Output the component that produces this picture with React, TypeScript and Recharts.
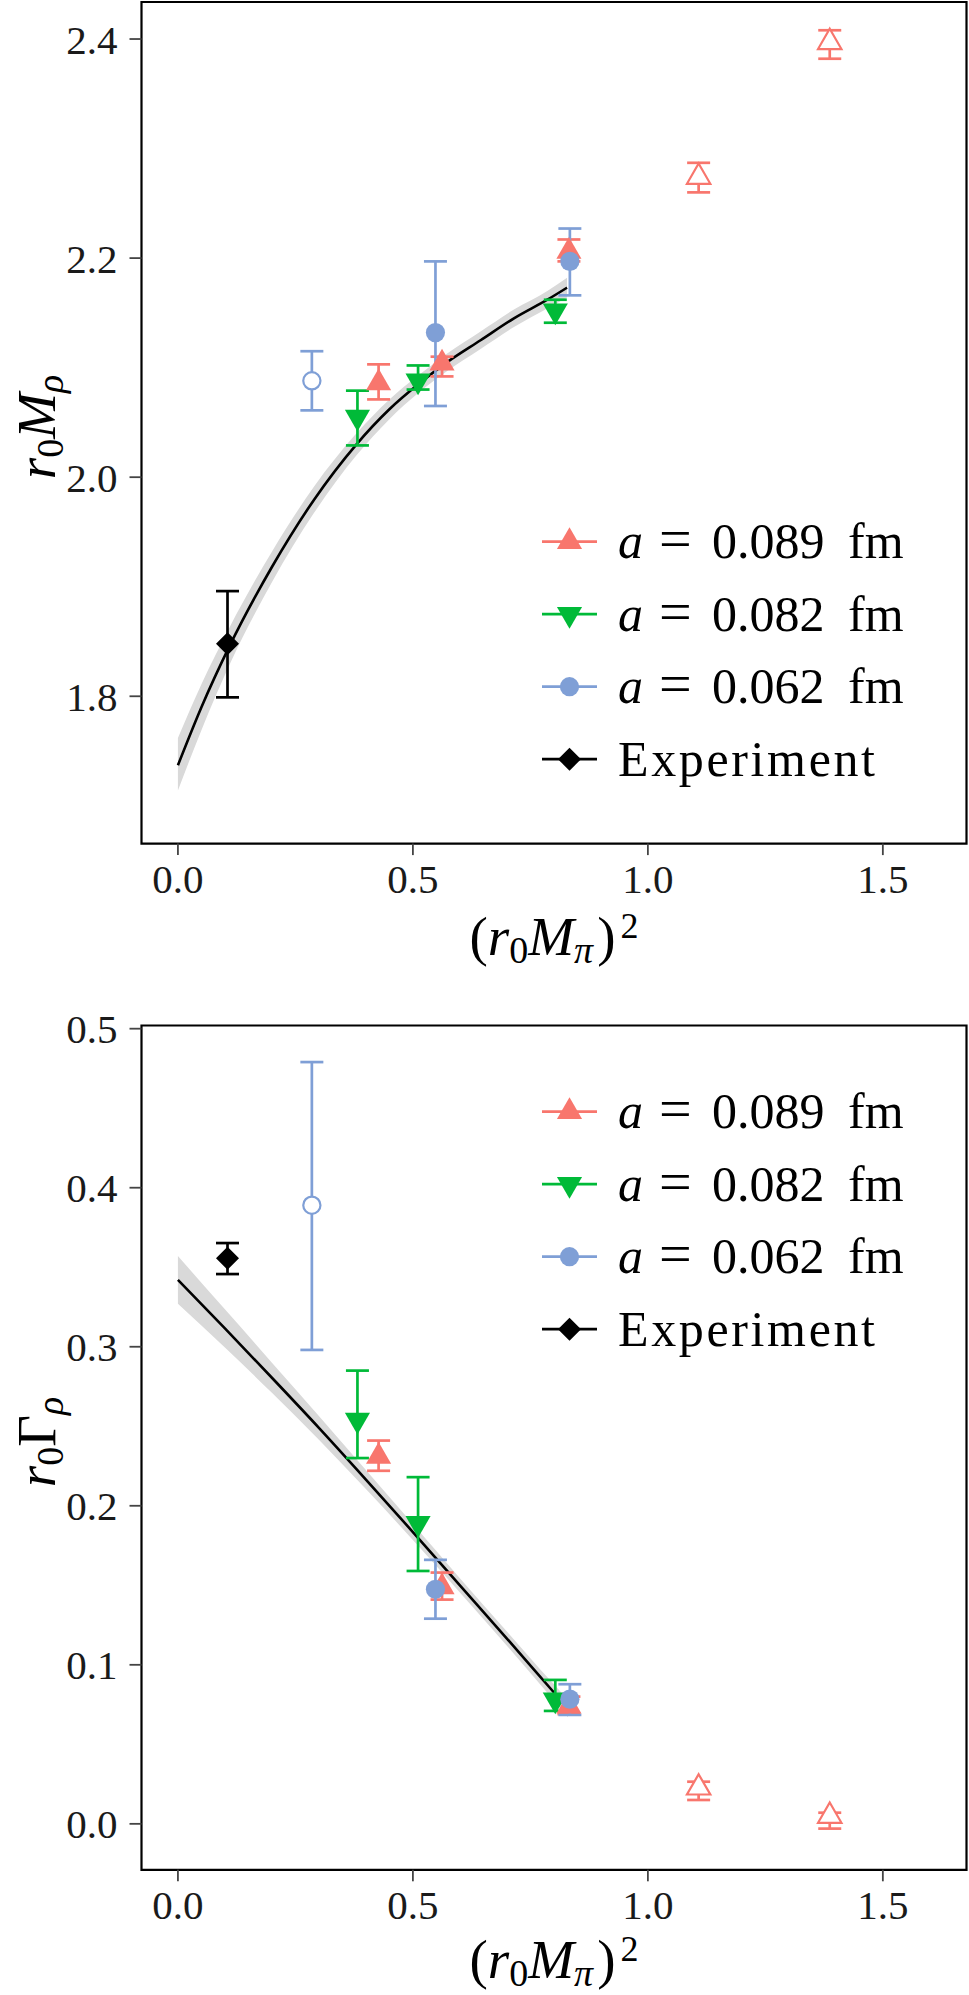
import React from 'react';
import { ComposedChart, Scatter, Line, Area, XAxis, YAxis, ErrorBar, ReferenceArea, Legend } from 'recharts';

const FONT = '"Liberation Serif", "DejaVu Serif", serif';
const RED = '#F8766D';
const GREEN = '#00BA38';
const BLUE = '#7F9FD6';
const BLACK = '#000000';

// ---------- x values: (r0 M_pi)^2 ----------
const redX = [0.427, 0.562, 0.832];
const redOpenX = [1.108, 1.387];
const greenX = [0.382, 0.511, 0.803];
const blueX = [0.548, 0.834];
const blueOpenX = [0.285];
const expX = [0.1055];

// ---------- top panel: r0 M_rho ----------
const mRed = [2.086, 2.104, 2.206];
const mRedLo = [2.071, 2.092, 2.197];
const mRedHi = [2.103, 2.110, 2.217];
const mRedOpen = [2.274, 2.397];
const mRedOpenLo = [2.260, 2.382];
const mRedOpenHi = [2.287, 2.408];
const mGreen = [2.055, 2.088, 2.152];
const mGreenLo = [2.029, 2.080, 2.141];
const mGreenHi = [2.079, 2.102, 2.162];
const mBlue = [2.132, 2.197];
const mBlueLo = [2.065, 2.166];
const mBlueHi = [2.197, 2.227];
const mBlueOpen = [2.088];
const mBlueOpenLo = [2.061];
const mBlueOpenHi = [2.115];
const mExp = [1.848];
const mExpLo = [1.799];
const mExpHi = [1.896];

// fit curve (top)
const fitMX = [0, 0.05, 0.11, 0.2, 0.289, 0.38, 0.45, 0.512, 0.573, 0.644, 0.715, 0.786, 0.828];
const fitMY = [1.737, 1.790, 1.846, 1.918, 1.979, 2.030, 2.062, 2.085, 2.105, 2.125, 2.145, 2.162, 2.173];
const fitMLo = [1.714, 1.769, 1.829, 1.904, 1.967, 2.020, 2.053, 2.077, 2.097, 2.117, 2.137, 2.154, 2.164];
const fitMHi = [1.762, 1.811, 1.863, 1.932, 1.991, 2.040, 2.071, 2.093, 2.113, 2.133, 2.153, 2.170, 2.182];

// ---------- bottom panel: r0 Gamma_rho ----------
const gRed = [0.231, 0.149, 0.074];
const gRedLo = [0.222, 0.141, 0.069];
const gRedHi = [0.241, 0.158, 0.080];
const gRedOpen = [0.0227, 0.0049];
const gRedOpenLo = [0.015, -0.003];
const gRedOpenHi = [0.0265, 0.007];
const gGreen = [0.254, 0.189, 0.078];
const gGreenLo = [0.230, 0.159, 0.071];
const gGreenHi = [0.285, 0.218, 0.0905];
const gBlue = [0.1475, 0.0784];
const gBlueLo = [0.129, 0.0685];
const gBlueHi = [0.166, 0.0878];
const gBlueOpen = [0.389];
const gBlueOpenLo = [0.298];
const gBlueOpenHi = [0.479];
const gExp = [0.3557];
const gExpLo = [0.3457];
const gExpHi = [0.3652];

// fit line (bottom)
const fitGX = [0, 0.1, 0.2, 0.3, 0.4, 0.5, 0.6, 0.7, 0.796, 0.83];
const fitGY = [0.342, 0.3115, 0.2805, 0.249, 0.2165, 0.1835, 0.150, 0.1165, 0.084, 0.0725];
const fitGLo = [0.327, 0.2995, 0.271, 0.2415, 0.2105, 0.1785, 0.1455, 0.112, 0.079, 0.067];
const fitGHi = [0.357, 0.3235, 0.290, 0.2565, 0.2225, 0.1885, 0.1545, 0.121, 0.089, 0.078];

// ---------- ticks & labels ----------
const xTicks = [0, 0.5, 1.0, 1.5];
const mTicks = [1.8, 2.0, 2.2, 2.4];
const gTicks = [0, 0.1, 0.2, 0.3, 0.4, 0.5];
const legendSpacings = ['0.089', '0.082', '0.062'];
const legendExp = 'Experiment';

const pts = (xs: number[], ys: number[], lo: number[], hi: number[]) =>
  xs.map((x, i) => ({ x, y: ys[i], err: [ys[i] - lo[i], hi[i] - ys[i]] }));
const fit = (xs: number[], ys: number[], lo: number[], hi: number[]) =>
  xs.map((x, i) => ({ x, y: ys[i], lo: lo[i], hi: hi[i] }));

type Kind = 'up' | 'down' | 'circle' | 'diamond';

function Marker({ cx, cy, kind, color, open }: { cx: number; cy: number; kind: Kind; color: string; open?: boolean }) {
  const sw = 2.2;
  const fill = open ? '#ffffff' : color;
  const stroke = open ? color : 'none';
  if (cx == null || cy == null) return null;
  if (kind === 'up' || kind === 'down') {
    const r = open ? 13.5 : 14.5;
    const h = 0.866 * r;
    const s = kind === 'up' ? 1 : -1;
    const p = `${cx},${cy - s * r} ${cx + h},${cy + (s * r) / 2} ${cx - h},${cy + (s * r) / 2}`;
    return <polygon points={p} fill={fill} stroke={stroke} strokeWidth={sw} strokeLinejoin="miter" />;
  }
  if (kind === 'circle') {
    return <circle cx={cx} cy={cy} r={open ? 8.6 : 9.6} fill={fill} stroke={stroke} strokeWidth={sw} />;
  }
  const d = 11.5;
  return (
    <polygon
      points={`${cx},${cy - d} ${cx + d},${cy} ${cx},${cy + d} ${cx - d},${cy}`}
      fill={fill}
      stroke={stroke}
      strokeWidth={sw}
    />
  );
}

type Series = { key: string; color: string; kind: Kind; open: boolean; data: any[] };

const topSeries: Series[] = [
  { key: 'red', color: RED, kind: 'up', open: false, data: pts(redX, mRed, mRedLo, mRedHi) },
  { key: 'redOpen', color: RED, kind: 'up', open: true, data: pts(redOpenX, mRedOpen, mRedOpenLo, mRedOpenHi) },
  { key: 'green', color: GREEN, kind: 'down', open: false, data: pts(greenX, mGreen, mGreenLo, mGreenHi) },
  { key: 'blueOpen', color: BLUE, kind: 'circle', open: true, data: pts(blueOpenX, mBlueOpen, mBlueOpenLo, mBlueOpenHi) },
  { key: 'blue', color: BLUE, kind: 'circle', open: false, data: pts(blueX, mBlue, mBlueLo, mBlueHi) },
  { key: 'exp', color: BLACK, kind: 'diamond', open: false, data: pts(expX, mExp, mExpLo, mExpHi) },
];

const bottomSeries: Series[] = [
  { key: 'red', color: RED, kind: 'up', open: false, data: pts(redX, gRed, gRedLo, gRedHi) },
  { key: 'redOpen', color: RED, kind: 'up', open: true, data: pts(redOpenX, gRedOpen, gRedOpenLo, gRedOpenHi) },
  { key: 'green', color: GREEN, kind: 'down', open: false, data: pts(greenX, gGreen, gGreenLo, gGreenHi) },
  { key: 'blueOpen', color: BLUE, kind: 'circle', open: true, data: pts(blueOpenX, gBlueOpen, gBlueOpenLo, gBlueOpenHi) },
  { key: 'blue', color: BLUE, kind: 'circle', open: false, data: pts(blueX, gBlue, gBlueLo, gBlueHi) },
  { key: 'exp', color: BLACK, kind: 'diamond', open: false, data: pts(expX, gExp, gExpLo, gExpHi) },
];

const legendItems: { color: string; kind: Kind; value: string | null }[] = [
  { color: RED, kind: 'up', value: legendSpacings[0] },
  { color: GREEN, kind: 'down', value: legendSpacings[1] },
  { color: BLUE, kind: 'circle', value: legendSpacings[2] },
  { color: BLACK, kind: 'diamond', value: null },
];

function LegendBox() {
  const row0 = 41.7;
  const step = 72.5;
  return (
    <svg width={420} height={300} style={{ overflow: 'visible', display: 'block' }}>
      {legendItems.map((it, i) => {
        const cy = row0 + i * step;
        const base = cy + 16.6;
        return (
          <g key={i}>
            <line x1={12} x2={67} y1={cy} y2={cy} stroke={it.color} strokeWidth={2.8} />
            <Marker cx={39.5} cy={cy} kind={it.kind} color={it.color} />
            {it.value ? (
              <text y={base} fontFamily={FONT} fontSize={50} fill="#000">
                <tspan x={88} fontStyle="italic">a</tspan>
                <tspan x={129} fontSize={58}>=</tspan>
                <tspan x={182}>{it.value}</tspan>
                <tspan x={318}>fm</tspan>
              </text>
            ) : (
              <text x={88} y={base} fontFamily={FONT} fontSize={50} fill="#000" textLength={257} lengthAdjust="spacing">
                {legendExp}
              </text>
            )}
          </g>
        );
      })}
    </svg>
  );
}

function XTitle({ y }: { y: number }) {
  return (
    <text x={554} y={y} textAnchor="middle" fontFamily={FONT} fontSize={55} fill="#000">
      <tspan>(</tspan>
      <tspan fontStyle="italic">r</tspan>
      <tspan fontSize={38} dy={8}>0</tspan>
      <tspan fontStyle="italic" dy={-8}>M</tspan>
      <tspan fontSize={38} fontStyle="italic" dy={8}>π</tspan>
      <tspan dy={-8} dx={4}>)</tspan>
      <tspan fontSize={36} dy={-17} dx={5}>2</tspan>
    </text>
  );
}

function YTitle({ cy, greek, italicGreek }: { cy: number; greek: string; italicGreek: boolean }) {
  const x = 55;
  return (
    <text
      x={x}
      y={cy}
      transform={`rotate(-90 ${x} ${cy})`}
      textAnchor="middle"
      fontFamily={FONT}
      fontSize={55}
      fill="#000"
    >
      <tspan fontStyle="italic">r</tspan>
      <tspan fontSize={38} dy={8}>0</tspan>
      <tspan fontStyle={italicGreek ? 'italic' : 'normal'} dy={-8}>{greek}</tspan>
      <tspan fontSize={38} fontStyle="italic" dy={8}>ρ</tspan>
    </text>
  );
}

type PanelProps = {
  top: number;
  height: number;
  marginTop: number;
  xAxisHeight: number;
  yDomain: [number, number];
  yTicks: number[];
  series: Series[];
  fitData: any[];
  legendTop: number;
  xTitleY: number;
  yTitleCy: number;
  greek: string;
  italicGreek: boolean;
};

const X_DOMAIN: [number, number] = [-0.0775, 1.678];

function Panel(p: PanelProps) {
  const tickStyle = { fontFamily: FONT, fontSize: 41, fill: '#1a1a1a' };
  return (
    <div style={{ position: 'absolute', left: 0, top: p.top, width: 969, height: p.height }}>
      <ComposedChart
        width={969}
        height={p.height}
        data={p.fitData}
        margin={{ top: p.marginTop, right: 2.5, bottom: 0, left: 0 }}
      >
        <XAxis
          type="number"
          dataKey="x"
          domain={X_DOMAIN}
          allowDataOverflow
          ticks={xTicks}
          interval={0}
          tickFormatter={(v: number) => v.toFixed(1)}
          height={p.xAxisHeight}
          axisLine={false}
          tickSize={11.5}
          tickMargin={9}
          tickLine={{ stroke: '#444', strokeWidth: 1.8 }}
          tick={tickStyle}
          label={{ content: () => <XTitle y={p.xTitleY} /> }}
        />
        <YAxis
          type="number"
          dataKey="y"
          domain={p.yDomain}
          allowDataOverflow
          ticks={p.yTicks}
          interval={0}
          tickFormatter={(v: number) => v.toFixed(1)}
          width={141.5}
          axisLine={false}
          tickSize={12}
          tickMargin={12}
          tickLine={{ stroke: '#444', strokeWidth: 1.8 }}
          tick={tickStyle}
          label={{ content: () => <YTitle cy={p.yTitleCy} greek={p.greek} italicGreek={p.italicGreek} /> }}
        />
        <Area
          type="monotone"
          dataKey={(d: any) => [d.lo, d.hi]}
          stroke="none"
          fill="#D9D9D9"
          fillOpacity={1}
          isAnimationActive={false}
          activeDot={false}
          dot={false}
        />
        <Line
          type="monotone"
          dataKey="y"
          stroke="#000"
          strokeWidth={2.6}
          dot={false}
          activeDot={false}
          isAnimationActive={false}
        />
        {p.series.map((s) => (
          <Scatter
            key={s.key}
            data={s.data}
            dataKey="y"
            isAnimationActive={false}
            shape={(sp: any) => <Marker cx={sp.cx} cy={sp.cy} kind={s.kind} color={s.color} open={s.open} />}
          >
            <ErrorBar dataKey="err" direction="y" width={11.5} stroke={s.color} strokeWidth={2.7} isAnimationActive={false} />
          </Scatter>
        ))}
        <ReferenceArea
          x1={X_DOMAIN[0]}
          x2={X_DOMAIN[1]}
          y1={p.yDomain[0]}
          y2={p.yDomain[1]}
          fill="none"
          fillOpacity={0}
          stroke="#000"
          strokeWidth={2.2}
          ifOverflow="visible"
        />
        <Legend
          layout="vertical"
          align="center"
          verticalAlign="middle"
          content={() => <LegendBox />}
          wrapperStyle={{ position: 'absolute', left: 530, top: p.legendTop, width: 420, height: 300 }}
        />
      </ComposedChart>
    </div>
  );
}

export default function App() {
  return (
    <div style={{ position: 'absolute', left: 0, top: 0, width: 969, height: 1995, background: '#fff' }}>
      <Panel
        top={0}
        height={1000}
        marginTop={2}
        xAxisHeight={156.4}
        yDomain={[1.6655, 2.4338]}
        yTicks={mTicks}
        series={topSeries}
        fitData={fit(fitMX, fitMY, fitMLo, fitMHi)}
        legendTop={500}
        xTitleY={955}
        yTitleCy={427}
        greek="M"
        italicGreek={true}
      />
      <Panel
        top={1000}
        height={995}
        marginTop={25.5}
        xAxisHeight={125.2}
        yDomain={[-0.0289, 0.502]}
        yTicks={gTicks}
        series={bottomSeries}
        fitData={fit(fitGX, fitGY, fitGLo, fitGHi)}
        legendTop={70}
        xTitleY={978}
        yTitleCy={442}
        greek="Γ"
        italicGreek={false}
      />
    </div>
  );
}
